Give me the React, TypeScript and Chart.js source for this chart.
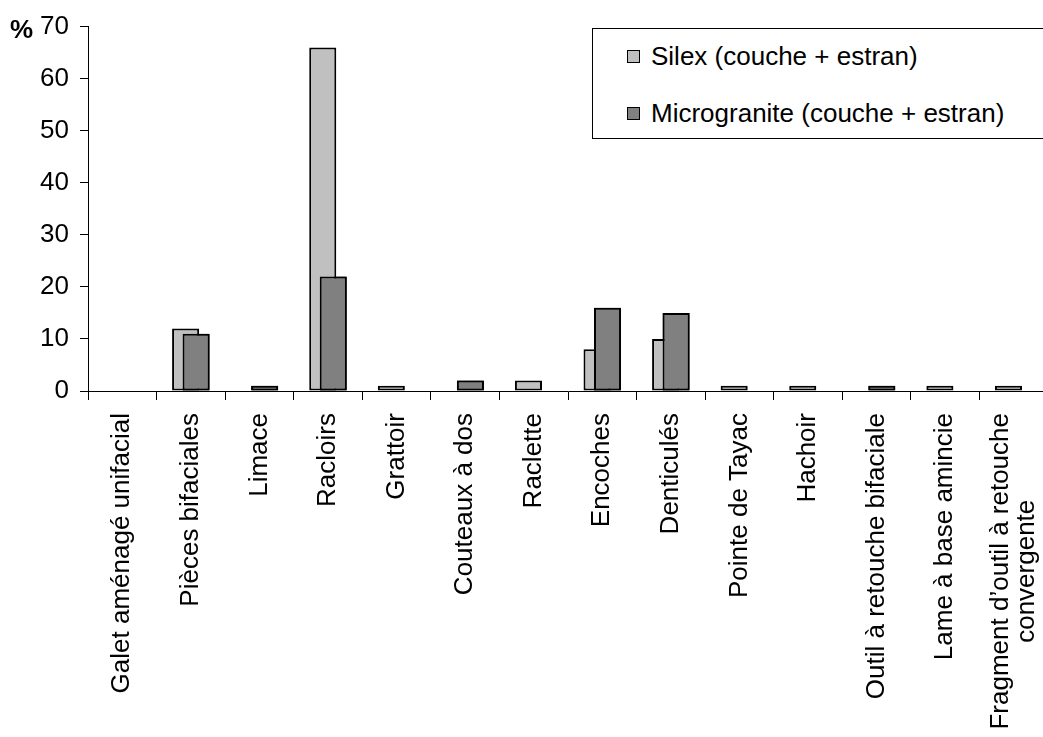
import React, { useEffect, useRef } from 'react';
import { Chart, registerables } from 'chart.js';

Chart.register(...registerables);

const FONT = '"Liberation Sans", Arial, sans-serif';

const categories: string[][] = [
  ['Galet aménagé unifacial'],
  ['Pièces bifaciales'],
  ['Limace'],
  ['Racloirs'],
  ['Grattoir'],
  ['Couteaux à dos'],
  ['Raclette'],
  ['Encoches'],
  ['Denticulés'],
  ['Pointe de Tayac'],
  ['Hachoir'],
  ['Outil à retouche bifaciale'],
  ['Lame à base amincie'],
  ['Fragment d’outil à retouche', 'convergente'],
];

const silexValues = [0, 12, 0, 66, 1, 0, 2, 8, 10, 1, 1, 0, 1, 1];
const micrograniteValues = [0, 11, 1, 22, 0, 2, 0, 16, 15, 0, 0, 1, 0, 0];

const seriesNames = ['Silex (couche + estran)', 'Microgranite (couche + estran)'];
const seriesColors = ['#C0C0C0', '#808080'];

const yMin = 0;
const yMax = 70;
const yStep = 10;
const yUnit = '%';

const LINE_H = 26;

// Silex is dataset 0 (left bar); the Microgranite bar (right) must overlap it,
// so it is drawn again on top once all datasets have been drawn.
const frontPlugin = {
  id: 'frontSeries',
  afterDatasetsDraw(chart: any) {
    const meta = chart.getDatasetMeta(1);
    if (meta && meta.controller) meta.controller.draw();
  },
};

const labelPlugin = {
  id: 'customLabels',
  afterDraw(chart: any) {
    const ctx = chart.ctx;
    const xs = chart.scales.x;
    ctx.save();
    ctx.fillStyle = '#000';
    ctx.font = `26px ${FONT}`;
    ctx.textBaseline = 'middle';
    ctx.textAlign = 'center';
    categories.forEach((lines, i) => {
      const px = xs.getPixelForValue(i);
      const widths = lines.map((l) => ctx.measureText(l).width);
      const maxW = Math.max(...widths);
      ctx.save();
      ctx.translate(px, xs.top + 22);
      ctx.rotate(-Math.PI / 2);
      lines.forEach((l, k) => {
        ctx.fillText(l, -maxW / 2, (k - (lines.length - 1) / 2) * LINE_H);
      });
      ctx.restore();
    });
    ctx.font = `bold 26px ${FONT}`;
    ctx.textAlign = 'left';
    ctx.textBaseline = 'alphabetic';
    ctx.fillText(yUnit, 10, 38);
    ctx.restore();
  },
};

export default function App() {
  const canvasRef = useRef<HTMLCanvasElement | null>(null);

  useEffect(() => {
    if (!canvasRef.current) return;
    const chart = new Chart(canvasRef.current, {
      type: 'bar',
      data: {
        labels: categories.map((c) => c.join(' ')),
        datasets: [
          {
            label: seriesNames[0],
            data: silexValues,
            backgroundColor: seriesColors[0],
            borderColor: '#000',
            borderWidth: 2,
            borderSkipped: false,
            categoryPercentage: 0.306,
            barPercentage: 2.58,
          },
          {
            label: seriesNames[1],
            data: micrograniteValues,
            backgroundColor: seriesColors[1],
            borderColor: '#000',
            borderWidth: 2,
            borderSkipped: false,
            categoryPercentage: 0.306,
            barPercentage: 2.58,
          },
        ],
      },
      options: {
        responsive: false,
        animation: false,
        devicePixelRatio: 1,
        layout: { padding: { top: 24, left: 0, right: 0, bottom: 0 } },
        plugins: {
          legend: { display: false },
          tooltip: { enabled: false },
        },
        scales: {
          x: {
            type: 'category',
            grid: {
              offset: true,
              drawOnChartArea: false,
              drawTicks: true,
              tickLength: 9,
              color: '#000',
            },
            border: { color: '#000', width: 1 },
            ticks: { display: false },
            afterFit: (scale: any) => {
              scale.height = 346;
            },
          },
          y: {
            min: yMin,
            max: yMax,
            grid: {
              drawOnChartArea: false,
              drawTicks: true,
              tickLength: 8,
              color: '#000',
            },
            border: { color: '#000', width: 1 },
            ticks: {
              stepSize: yStep,
              color: '#000',
              padding: 11,
              font: { family: FONT, size: 26 },
            },
            afterFit: (scale: any) => {
              scale.width = 88;
            },
          },
        },
      },
      plugins: [frontPlugin, labelPlugin],
    });
    return () => chart.destroy();
  }, []);

  const legendRow = (i: number, top: number) => (
    <div
      key={i}
      style={{
        position: 'absolute',
        left: 34,
        top: top,
        height: 30,
        display: 'flex',
        alignItems: 'center',
        whiteSpace: 'nowrap',
      }}
    >
      <div
        style={{
          width: 11,
          height: 11,
          border: '1.5px solid #000',
          background: seriesColors[i],
          marginRight: 11,
          flex: 'none',
        }}
      />
      <span style={{ fontFamily: FONT, fontSize: 26, color: '#000', lineHeight: '30px' }}>
        {seriesNames[i]}
      </span>
    </div>
  );

  return (
    <div
      style={{
        position: 'absolute',
        left: 0,
        top: 0,
        width: 1043,
        height: 737,
        overflow: 'hidden',
        background: '#fff',
      }}
    >
      <canvas ref={canvasRef} width={1048} height={737} style={{ display: 'block', width: 1048, height: 737 }} />
      <div
        style={{
          position: 'absolute',
          left: 592,
          top: 28,
          width: 470,
          height: 111,
          border: '1px solid #000',
          background: '#fff',
          boxSizing: 'border-box',
        }}
      >
        {legendRow(0, 12)}
        {legendRow(1, 69)}
      </div>
    </div>
  );
}
